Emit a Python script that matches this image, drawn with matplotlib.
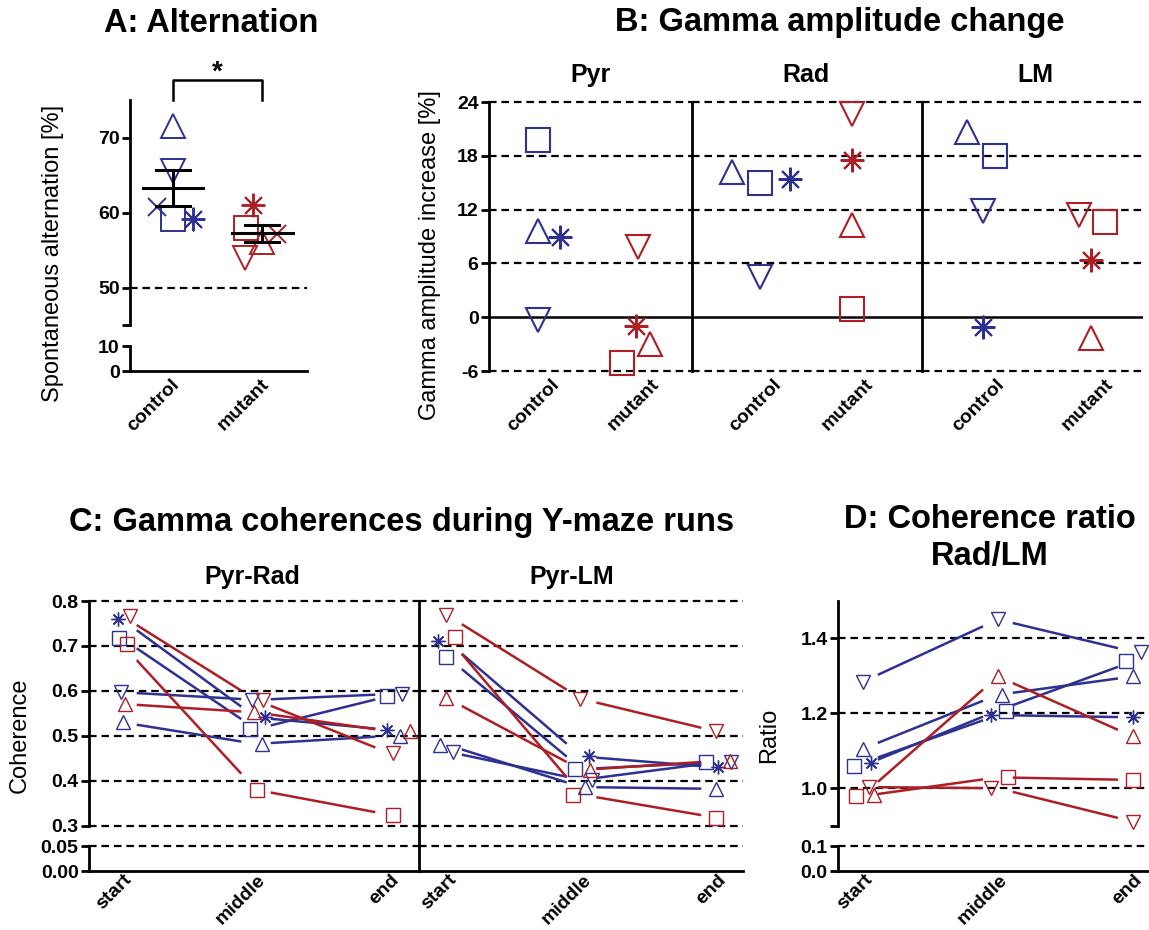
import matplotlib
matplotlib.use('Agg')
import matplotlib.pyplot as plt
import matplotlib.transforms as mtransforms
from matplotlib.lines import Line2D
import numpy as np

plt.rcParams['font.family'] = ['Liberation Sans', 'DejaVu Sans']
plt.rcParams['font.weight'] = 'bold'

# ------------------------------------------------------------------ data
GROUPS = ['control', 'mutant']
TIMES = ['start', 'middle', 'end']

# Panel A: spontaneous alternation [%]
A_SYMBOLS = ['^', 'v', 'x', 's', '*']
A_CONTROL = [71.5, 65.6, 60.8, 59.1, 59.1]
A_MUTANT = [56.1, 54.0, 57.2, 57.9, 61.0]

# Panel B: gamma amplitude increase [%]
B_LAYERS = ['Pyr', 'Rad', 'LM']
B_SYMBOLS = ['s', '^', '*', 'v']
B_PYR_CONTROL = [19.8, 9.6, 8.9, -0.3]
B_PYR_MUTANT = [-5.1, -3.0, -1.0, 7.8]
B_RAD_CONTROL = [15.0, 16.2, 15.4, 4.5]
B_RAD_MUTANT = [0.9, 10.3, 17.5, 22.7]
B_LM_CONTROL = [18.0, 20.6, -1.1, 11.8]
B_LM_MUTANT = [10.6, -2.3, 6.4, 11.4]

# Panels C and D: one row per animal, columns = start, middle, end
CD_SYMBOLS = ['*', 's', 'v', '^', 'v', 's', '^']
CD_GROUP = ['control', 'control', 'control', 'control', 'mutant', 'mutant', 'mutant']
C_PYR_RAD = [[0.759, 0.541, 0.513],
             [0.717, 0.515, 0.589],
             [0.597, 0.580, 0.593],
             [0.530, 0.482, 0.500],
             [0.767, 0.580, 0.461],
             [0.704, 0.380, 0.324],
             [0.571, 0.552, 0.510]]
C_PYR_LM = [[0.711, 0.454, 0.430],
            [0.676, 0.426, 0.441],
            [0.465, 0.402, 0.441],
            [0.480, 0.386, 0.382],
            [0.769, 0.582, 0.510],
            [0.721, 0.369, 0.318],
            [0.584, 0.424, 0.444]]
D_RATIO = [[1.068, 1.195, 1.189],
           [1.060, 1.207, 1.338],
           [1.284, 1.450, 1.364],
           [1.105, 1.249, 1.298],
           [1.003, 1.000, 0.911],
           [0.979, 1.029, 1.022],
           [0.982, 1.298, 1.138]]

# ------------------------------------------------------------------ style / layout
W, H, DPI = 1149, 930, 100
BLUE, RED = '#2E3192', '#AD1F24'
COL = {'control': BLUE, 'mutant': RED}
DASH = (0, (3.4, 2.2))
LW_AX = 2.0
TICK_FS = 14
LABEL_FS = 17
TITLE_FS = 23.5
SUB_FS = 18
ASTER = (8, 2, 0)
MK = {'s': 's', '^': '^', 'v': 'v', 'x': 'x', '*': ASTER}

# horizontal jitter of markers (pixels), as drawn by the original software
A_JIT = {'control': [0, 0, -16, 0, 20], 'mutant': [0, -17, 15, -16, -9]}
B_JIT = [([0, 0, 22, 0], [-16, 12, -2, 0]),
         ([0, -28, 30, 0], [0, 0, 0, 0]),
         ([12, -16, 0, 0], [14, 0, 0, -12])]
C1_JIT = [[-4, 9, -3], [-3, -6, -3], [-1, -4, 12], [1, 6, 10], [8, 7, 3], [5, 1, 3], [3, -2, 20]]
C2_JIT = [[-9, 7, 2], [-1, -7, -10], [6, 10, 15], [-7, 3, 0], [-1, -2, 0], [8, -9, 0], [-1, 8, 14]]
D_JIT = [[8, -7, 0], [-9, 8, -7], [0, 0, 8], [0, 4, 0], [6, -7, 0], [-7, 10, 0], [11, 0, 0]]

fig = plt.figure(figsize=(W / DPI, H / DPI), dpi=DPI)


def rect(x0, y0, x1, y1):
    return [x0 / W, 1 - y1 / H, (x1 - x0) / W, (y1 - y0) / H]


def base(ax, left=True, bottom=False, xpad=8):
    for s in ['top', 'right']:
        ax.spines[s].set_visible(False)
    ax.spines['left'].set_visible(left)
    ax.spines['bottom'].set_visible(bottom)
    for s in ax.spines.values():
        s.set_linewidth(LW_AX)
        s.set_capstyle('projecting')
    ax.patch.set_alpha(0)
    ax.tick_params(axis='y', length=6, width=LW_AX, pad=1.5, labelsize=TICK_FS)
    ax.tick_params(axis='x', length=0, labelsize=TICK_FS, pad=xpad)


def xlabels(ax, labels, shift_px=0):
    ax.set_xticks(range(len(labels)))
    ax.set_xticklabels(labels, rotation=45, ha='right', va='center',
                       rotation_mode='anchor', fontweight='bold')
    if shift_px:
        off = mtransforms.ScaledTranslation(shift_px / DPI, 0, fig.dpi_scale_trans)
        for lab in ax.get_xticklabels():
            lab.set_transform(lab.get_transform() + off)


def hdash(ax, y):
    ax.axhline(y, color='k', ls=DASH, lw=1.6, clip_on=False, zorder=1)


def mark(ax, x, y, sym, color, ms, mew, dx=0):
    tr = mtransforms.offset_copy(ax.transData, fig=fig, x=dx, y=0, units='dots')
    ax.plot([x], [y], ls='none', marker=MK[sym], ms=ms, mfc='none', mec=color,
            mew=mew, transform=tr, clip_on=False, zorder=3)
    if sym == '*' and ms < 12:
        ax.plot([x], [y], ls='none', marker='o', ms=3, mfc=color, mec=color,
                transform=tr, clip_on=False, zorder=3)


# ================================================================== Panel A
axA = fig.add_axes(rect(130, 100, 307, 325))
axA2 = fig.add_axes(rect(130, 346, 307, 371))
base(axA)
base(axA2, bottom=True)
for ax in (axA, axA2):
    ax.set_xlim(-0.48, 1.5)
axA.set_ylim(45, 75)
axA2.set_ylim(0, 10)
axA.set_yticks([45, 50, 60, 70])
axA.set_yticklabels(['', '50', '60', '70'])
axA2.set_yticks([0, 10])
axA2.set_yticklabels(['0', '10'])
axA.set_xticks([])
xlabels(axA2, GROUPS, 4)
hdash(axA, 50)

for gi, (g, vals) in enumerate(zip(GROUPS, [A_CONTROL, A_MUTANT])):
    for sym, v, dx in zip(A_SYMBOLS, vals, A_JIT[g]):
        ms = 13.5 if sym == 'x' else 17
        mark(axA, gi, v, sym, COL[g], ms, 1.4, dx)
    arr = np.array(vals)
    m = arr.mean()
    sem = arr.std(ddof=1) / np.sqrt(len(arr))
    axA.plot([gi - 0.34, gi + 0.34], [m, m], color='k', lw=2.2, zorder=4)
    axA.plot([gi, gi], [m - sem, m + sem], color='k', lw=2.2, zorder=4)
    for yy in (m - sem, m + sem):
        axA.plot([gi - 0.19, gi + 0.19], [yy, yy], color='k', lw=2.2, zorder=4)

axA.plot([0, 0, 1, 1], [75, 77.7, 77.7, 75], color='k', lw=1.8, clip_on=False)
fig.text(217 / W, 1 - 73 / H, '*', ha='center', va='center', fontsize=20, fontweight='bold')

fig.text(211 / W, 1 - 23 / H, 'A: Alternation', ha='center', va='center',
         fontsize=TITLE_FS, fontweight='bold')
fig.text(53 / W, 1 - 253 / H, 'Spontaneous alternation [%]', rotation=90,
         ha='center', va='center', fontsize=LABEL_FS, fontweight='normal')

# ================================================================== Panel B
B_SPECS = [(489, 692, (-0.49, 1.54), 591),
           (692, 922, (-0.74, 1.76), 806),
           (922, 1143, (-0.565, 1.48), 1035)]
B_DATA = [(B_PYR_CONTROL, B_PYR_MUTANT), (B_RAD_CONTROL, B_RAD_MUTANT),
          (B_LM_CONTROL, B_LM_MUTANT)]
for li, ((x0, x1, xl, tx), data, jit) in enumerate(zip(B_SPECS, B_DATA, B_JIT)):
    ax = fig.add_axes(rect(x0, 102, x1, 371))
    base(ax)
    ax.set_xlim(*xl)
    ax.set_ylim(-6, 24)
    if li == 0:
        ax.set_yticks([-6, 0, 6, 12, 18, 24])
        ax.set_yticklabels(['-6', '0', '6', '12', '18', '24'])
    else:
        ax.set_yticks([])
    for y in (24, 18, 12, 6, -6):
        hdash(ax, y)
    ax.axhline(0, color='k', lw=1.8, zorder=1)
    xlabels(ax, GROUPS, 19)
    for gi, g in enumerate(GROUPS):
        for sym, v, dx in zip(B_SYMBOLS, data[gi], jit[gi]):
            mark(ax, gi, v, sym, COL[g], 17, 1.5, dx)
    fig.text(tx / W, 1 - 75 / H, B_LAYERS[li], ha='center', va='center',
             fontsize=SUB_FS, fontweight='bold')

fig.text(840 / W, 1 - 23 / H, 'B: Gamma amplitude change', ha='center', va='center',
         fontsize=TITLE_FS, fontweight='bold')
fig.text(430 / W, 1 - 255 / H, 'Gamma amplitude increase [%]', rotation=90,
         ha='center', va='center', fontsize=LABEL_FS, fontweight='normal')


# ================================================================== Panels C / D
def lines_and_marks(ax, table, jit, trim=0.11):
    for row, sym, g, jr in zip(table, CD_SYMBOLS, CD_GROUP, jit):
        for i in range(len(row) - 1):
            y0, y1 = row[i], row[i + 1]
            xa, xb = i + trim, i + 1 - trim
            ya = y0 + (y1 - y0) * trim
            yb = y0 + (y1 - y0) * (1 - trim)
            ax.plot([xa, xb], [ya, yb], color=COL[g], lw=1.8, zorder=2,
                    solid_capstyle='butt', clip_on=False)
        for i, (v, dx) in enumerate(zip(row, jr)):
            mark(ax, i, v, sym, COL[g], 10, 1.0, dx)


C_SPECS = [(89, 419, (-0.246, 2.216), C_PYR_RAD, C1_JIT, 'Pyr-Rad', 252),
           (419, 743, (-0.208, 2.2), C_PYR_LM, C2_JIT, 'Pyr-LM', 572)]
for ci, (x0, x1, xl, table, jit, name, tx) in enumerate(C_SPECS):
    up = fig.add_axes(rect(x0, 601, x1, 825.7))
    lo = fig.add_axes(rect(x0, 846, x1, 871))
    base(up)
    base(lo, bottom=True, xpad=4.5)
    for ax in (up, lo):
        ax.set_xlim(*xl)
    up.set_ylim(0.3, 0.8)
    lo.set_ylim(0, 0.05)
    if ci == 0:
        up.set_yticks([0.3, 0.4, 0.5, 0.6, 0.7, 0.8])
        up.set_yticklabels(['0.3', '0.4', '0.5', '0.6', '0.7', '0.8'])
        lo.set_yticks([0, 0.05])
        lo.set_yticklabels(['0.00', '0.05'])
    else:
        up.set_yticks([])
        lo.set_yticks([])
        fig.add_artist(Line2D([x0 / W, x0 / W], [1 - 825.7 / H, 1 - 846 / H],
                              color='k', lw=LW_AX))
    for y in (0.3, 0.4, 0.5, 0.6, 0.7, 0.8):
        hdash(up, y)
    hdash(lo, 0.05)
    up.set_xticks([])
    xlabels(lo, TIMES, 7)
    lines_and_marks(up, table, jit)
    fig.text(tx / W, 1 - 577 / H, name, ha='center', va='center',
             fontsize=SUB_FS, fontweight='bold')

fig.text(402 / W, 1 - 522 / H, 'C: Gamma coherences during Y-maze runs', ha='center',
         va='center', fontsize=TITLE_FS, fontweight='bold')
fig.text(20 / W, 1 - 735 / H, 'Coherence', rotation=90, ha='center', va='center',
         fontsize=LABEL_FS, fontweight='normal')

upD = fig.add_axes(rect(838, 600.7, 1149, 825.7))
loD = fig.add_axes(rect(838, 846, 1149, 871))
base(upD)
base(loD, bottom=True, xpad=4.5)
for ax in (upD, loD):
    ax.set_xlim(-0.185, 2.12)
upD.set_ylim(0.9, 1.5)
loD.set_ylim(0, 0.1)
upD.set_yticks([0.9, 1.0, 1.2, 1.4])
upD.set_yticklabels(['', '1.0', '1.2', '1.4'])
loD.set_yticks([0, 0.1])
loD.set_yticklabels(['0.0', '0.1'])
for y in (1.0, 1.2, 1.4):
    hdash(upD, y)
hdash(loD, 0.1)
upD.set_xticks([])
xlabels(loD, TIMES, 7)
lines_and_marks(upD, D_RATIO, D_JIT)

fig.text(990 / W, 1 - 520 / H, 'D: Coherence ratio', ha='center', va='center',
         fontsize=TITLE_FS, fontweight='bold')
fig.text(990 / W, 1 - 556 / H, 'Rad/LM', ha='center', va='center',
         fontsize=TITLE_FS, fontweight='bold')
fig.text(769 / W, 1 - 735 / H, 'Ratio', rotation=90, ha='center', va='center',
         fontsize=LABEL_FS, fontweight='normal')

fig.savefig('out.png', dpi=DPI)
